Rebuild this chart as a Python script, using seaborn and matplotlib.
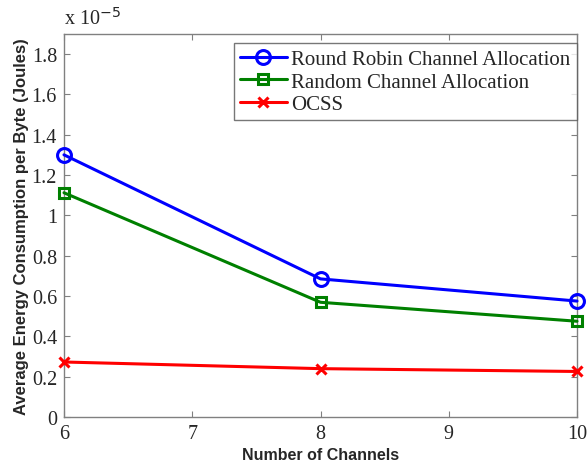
import numpy as np
import pandas as pd
import matplotlib
matplotlib.use("Agg")
import matplotlib.pyplot as plt
import seaborn as sns

# datos (en unidades de 1e-5 Joules)
canales = [6, 8, 10]
round_robin = [1.30, 0.685, 0.575]
random_alloc = [1.112, 0.569, 0.475]
ocss = [0.273, 0.240, 0.226]
nombres = ["Round Robin Channel Allocation", "Random Channel Allocation", "OCSS"]

sns.set_style("white")
serif = "Liberation Serif"
sans = "Liberation Sans"

fig = plt.figure(figsize=(5.87, 4.64), dpi=100)
ax = fig.add_axes([0.109, 0.099, 0.874, 0.826])

series = [
    (round_robin, nombres[0], "#0000ff", "o", 10),
    (random_alloc, nombres[1], "#008000", "s", 7.5),
    (ocss, nombres[2], "#ff0000", "x", 7),
]
for vals, nombre, color, mk, ms in series:
    sns.lineplot(x=canales, y=vals, ax=ax, color=color, linewidth=2.2,
                 marker=mk, markersize=ms, markerfacecolor="none",
                 markeredgecolor=color, markeredgewidth=2.2, label=nombre,
                 clip_on=False, zorder=3)

ax.set_xlim(6, 10)
ax.set_ylim(0, 1.9)
ax.set_xticks([6, 7, 8, 9, 10])
ax.set_yticks(np.arange(0, 1.81, 0.2))
ax.set_xticklabels(["6", "7", "8", "9", "10"], family=serif, fontsize=14.5)
ax.set_yticklabels(["0", "0.2", "0.4", "0.6", "0.8", "1", "1.2", "1.4", "1.6", "1.8"],
                   family=serif, fontsize=14.5)
ax.tick_params(direction="in", length=4, color="#808080", top=True, right=True,
               bottom=True, left=True, pad=5)
for s in ax.spines.values():
    s.set_color("#808080")
    s.set_linewidth(1)

ax.set_xlabel("Number of Channels", family=sans, fontweight="bold", fontsize=11.5, labelpad=3)
ax.set_ylabel("Average Energy Consumption per Byte (Joules)", family=sans,
              fontweight="bold", fontsize=12, labelpad=2)

ax.text(0.0, 1.012, "x 10$^{-5}$", transform=ax.transAxes, family=serif,
        fontsize=14.5, ha="left", va="bottom")

leg = ax.legend(loc="upper right", bbox_to_anchor=(0.999, 0.976), prop={"family": serif, "size": 15},
                frameon=True, fancybox=False, edgecolor="#555555", borderpad=0.3,
                labelspacing=0.15, handlelength=2.25, handletextpad=0.2, borderaxespad=0)
leg.get_frame().set_linewidth(1)

fig.savefig("out.png", dpi=100)
